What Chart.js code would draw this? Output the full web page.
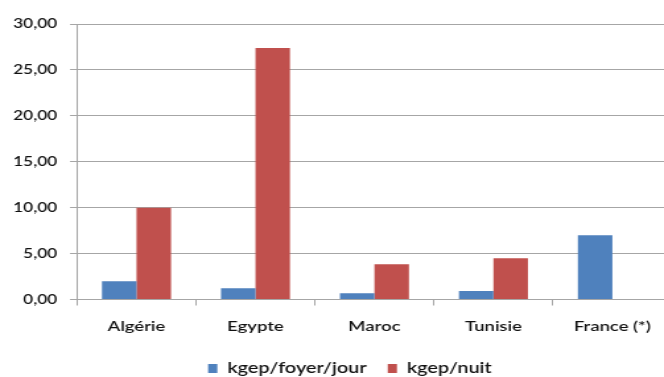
<!DOCTYPE html>
<html>
<head>
<meta charset="utf-8">
<script src="https://cdn.jsdelivr.net/npm/chart.js@4"></script>
<style>
  html, body { margin: 0; padding: 0; background: #fff; overflow: hidden; width: 664px; height: 377px; }
  #wrap { position: absolute; left: 0; top: 0; width: 509px; height: 377px; transform: scaleX(1.32); transform-origin: 0 0; }
</style>
</head>
<body>
<div id="wrap"><canvas id="c" width="509" height="377"></canvas></div>
<script>
// Consommation par pays
const categories = ['Algérie', 'Egypte', 'Maroc', 'Tunisie', 'France (*)'];
const kgepFoyerJour = [2.0, 1.22, 0.68, 0.93, 7.0];
const kgepNuit = [10.0, 27.4, 3.84, 4.49, null];
const seriesNames = ['kgep/foyer/jour', 'kgep/nuit'];
const yTickLabels = ['0,00', '5,00', '10,00', '15,00', '20,00', '25,00', '30,00'];

// the drawing is stretched horizontally by this factor (see #wrap)
const SX = 1.32;
const GRID = '#a6a6a6';
const TEXT = '#111';
const FONT = 'Lato, "Open Sans", sans-serif';

// trims the legend box so it sits lower, and nudges it right
const legendFit = {
  id: 'legendFit',
  beforeLayout(chart) {
    const lg = chart.legend;
    if (lg && !lg._trimmed) {
      const f = lg.fit;
      lg.fit = function () { f.call(this); this.height -= 9; };
      lg._trimmed = true;
    }
  },
  afterLayout(chart) {
    const lg = chart.legend;
    if (lg) {
      const dx = 14 / SX;
      lg.left += dx;
      lg.right += dx;
    }
  }
};

new Chart(document.getElementById('c'), {
  type: 'bar',
  data: {
    labels: categories,
    datasets: [
      { label: seriesNames[0], data: kgepFoyerJour, backgroundColor: '#4f81bd' },
      { label: seriesNames[1], data: kgepNuit, backgroundColor: '#c0504d' }
    ]
  },
  options: {
    responsive: false,
    animation: false,
    devicePixelRatio: 1,
    layout: { padding: { top: 24, left: 0, right: 0, bottom: 0 } },
    datasets: { bar: { categoryPercentage: 0.58, barPercentage: 1.0 } },
    plugins: {
      tooltip: { enabled: false },
      legend: {
        position: 'bottom',
        labels: {
          boxWidth: 7,
          boxHeight: 9,
          padding: 16,
          color: TEXT,
          font: { family: FONT, size: 15, weight: '600' }
        }
      }
    },
    scales: {
      x: {
        afterFit(s) { s.height = 45.5; },
        grid: { display: true, drawOnChartArea: false, drawTicks: true, tickLength: 6, color: GRID, offset: true },
        border: { color: GRID },
        ticks: { color: TEXT, padding: 12.5, font: { family: FONT, size: 14, weight: '600' } }
      },
      y: {
        min: 0,
        max: 30,
        afterFit(s) { s.width = 77 / SX; },
        grid: { color: GRID, tickLength: 7 / SX },
        border: { color: GRID },
        ticks: {
          stepSize: 5,
          padding: 9.8,
          color: TEXT,
          font: { family: FONT, size: 13, weight: '600' },
          callback: (v, i) => yTickLabels[i]
        }
      }
    }
  },
  plugins: [legendFit]
});
</script>
</body>
</html>
